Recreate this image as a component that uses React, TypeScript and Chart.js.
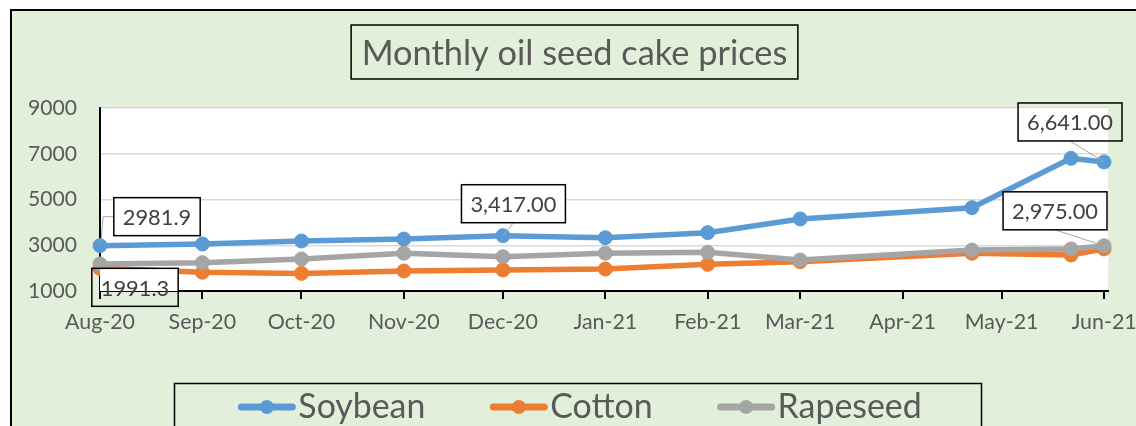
import { useEffect, useRef } from 'react';
import { Chart, registerables } from 'chart.js';

Chart.register(...registerables);

// ---------- data ----------
const TITLE = 'Monthly oil seed cake prices';
const SERIES_NAMES = ['Soybean', 'Cotton', 'Rapeseed'];
const SERIES_COLORS = ['#5B9BD5', '#ED7D31', '#A5A5A5'];

// days counted from 1 Aug 2020
const MONTH_TICK_LABELS = ['Aug-20', 'Sep-20', 'Oct-20', 'Nov-20', 'Dec-20', 'Jan-21', 'Feb-21', 'Mar-21', 'Apr-21', 'May-21', 'Jun-21'];
const MONTH_TICK_DAYS = [0, 31, 61, 92, 122, 153, 184, 212, 243, 273, 304];
const POINT_DAYS = [0, 31, 61, 92, 122, 153, 184, 212, 264, 294, 304];

const SOYBEAN = [2981.9, 3055, 3186, 3273, 3417, 3330, 3550, 4150, 4640, 6800, 6641];
const COTTON = [1991.3, 1820, 1770, 1875, 1920, 1960, 2165, 2280, 2650, 2575, 2840];
const RAPESEED = [2180, 2240, 2400, 2650, 2500, 2650, 2690, 2355, 2790, 2840, 2975];

const Y_MIN = 1000;
const Y_MAX = 9000;
const Y_STEP = 2000;

// data labels shown on the chart: series index, point index, text
const LABEL_SERIES = [0, 0, 0, 1, 2];
const LABEL_POINTS = [0, 4, 10, 0, 10];
const LABEL_TEXTS = ['2981.9', '3,417.00', '6,641.00', '1991.3', '2,975.00'];

// ---------- styling / layout ----------
const LABEL_LAYOUT = [
  { dx: 57, dy: -29, leader: 'elbow' },
  { dx: 10.5, dy: -32, leader: 'bottom' },
  { dx: -34, dy: -40, leader: 'bottom' },
  { dx: 35, dy: 19, leader: 'none' },
  { dx: -49, dy: -35, leader: 'bottom' },
];

const FONT = 'Lato';
const TEXT_GRAY = '#595959';
const GREEN = '#E2EFDA';

function fitPx(text: string, target: number): number {
  const c = document.createElement('canvas').getContext('2d')!;
  c.font = `100px ${FONT}`;
  return (100 * target) / c.measureText(text).width;
}

export default function App() {
  const ref = useRef<HTMLCanvasElement | null>(null);

  useEffect(() => {
    document.body.style.margin = '0';
    const canvas = ref.current!;

    const yTickSize = fitPx('9000', 49);
    const xTickSize = fitPx('Aug-20', 70);
    const labelSize = fitPx('6,641.00', 86);
    const titleSize = fitPx(TITLE, 426);
    const legendSize = fitPx('Soybean', 127);

    const seriesValues = [SOYBEAN, COTTON, RAPESEED];

    const decor = {
      id: 'decor',
      beforeDraw(chart: any) {
        const ctx = chart.ctx as CanvasRenderingContext2D;
        const W = chart.width;
        const H = chart.height;
        ctx.save();
        ctx.fillStyle = '#FFFFFF';
        ctx.fillRect(0, 0, W, H);
        ctx.fillStyle = GREEN;
        ctx.fillRect(12, 11, W - 12, H - 11);
        ctx.fillStyle = '#000000';
        ctx.fillRect(10, 9, W - 10, 2);
        ctx.fillRect(10, 9, 2, H - 9);
        const a = chart.chartArea;
        ctx.fillStyle = '#FFFFFF';
        ctx.fillRect(a.left, a.top, a.right - a.left, a.bottom - a.top);
        ctx.restore();
      },
      afterDatasetsDraw(chart: any) {
        const ctx = chart.ctx as CanvasRenderingContext2D;
        const a = chart.chartArea;
        ctx.save();
        ctx.font = `${labelSize}px ${FONT}`;
        for (let k = 0; k < LABEL_TEXTS.length; k++) {
          const meta = chart.getDatasetMeta(LABEL_SERIES[k]);
          const el = meta.data[LABEL_POINTS[k]];
          const px = el.x;
          const py = el.y;
          const lay = LABEL_LAYOUT[k];
          const cx = px + lay.dx;
          const cy = py + lay.dy;
          const tw = ctx.measureText(LABEL_TEXTS[k]).width;
          const w = tw + 18;
          const h = 38;
          const left = cx - w / 2;
          const top = cy - h / 2;
          ctx.save();
          ctx.beginPath();
          ctx.rect(a.left, a.top, a.right - a.left, a.bottom - a.top);
          ctx.clip();
          ctx.fillStyle = '#FFFFFF';
          ctx.fillRect(left, top, w, h);
          ctx.restore();
          ctx.strokeStyle = '#A6A6A6';
          ctx.lineWidth = 1;
          if (lay.leader === 'elbow') {
            ctx.beginPath();
            ctx.moveTo(px + 1, py - 3);
            ctx.lineTo(px + 3, cy);
            ctx.lineTo(left, cy);
            ctx.stroke();
          } else if (lay.leader === 'bottom') {
            ctx.beginPath();
            ctx.moveTo(cx, top + h);
            ctx.lineTo(px, py);
            ctx.stroke();
          }
          ctx.strokeStyle = '#000000';
          ctx.lineWidth = 1.5;
          ctx.strokeRect(left, top, w, h);
          ctx.fillStyle = '#404040';
          ctx.textAlign = 'center';
          ctx.textBaseline = 'alphabetic';
          ctx.fillText(LABEL_TEXTS[k], cx, cy + 8.5);
        }
        ctx.restore();
      },
      afterDraw(chart: any) {
        const ctx = chart.ctx as CanvasRenderingContext2D;
        ctx.save();
        ctx.font = `${titleSize}px ${FONT}`;
        const tw = ctx.measureText(TITLE).width;
        const tcx = 574.5;
        ctx.strokeStyle = '#000000';
        ctx.lineWidth = 1.5;
        ctx.strokeRect(tcx - tw / 2 - 10.5, 25, tw + 21, 54);
        ctx.fillStyle = TEXT_GRAY;
        ctx.textAlign = 'center';
        ctx.textBaseline = 'alphabetic';
        ctx.fillText(TITLE, tcx, 65);

        ctx.font = `${legendSize}px ${FONT}`;
        ctx.strokeRect(174.5, 383.5, 807, 60);
        const symW = 57;
        const gapText = 3;
        const gapItem = 65;
        const widths = SERIES_NAMES.map((n) => ctx.measureText(n).width);
        const total = SERIES_NAMES.length * (symW + gapText) + widths.reduce((s, v) => s + v, 0) + gapItem * (SERIES_NAMES.length - 1);
        let x = 580 - total / 2;
        const ly = 407;
        ctx.textAlign = 'left';
        for (let i = 0; i < SERIES_NAMES.length; i++) {
          ctx.strokeStyle = SERIES_COLORS[i];
          ctx.lineWidth = 7;
          ctx.lineCap = 'round';
          ctx.beginPath();
          ctx.moveTo(x + 3, ly);
          ctx.lineTo(x + symW - 3, ly);
          ctx.stroke();
          ctx.fillStyle = SERIES_COLORS[i];
          ctx.beginPath();
          ctx.arc(x + symW / 2, ly, 7, 0, Math.PI * 2);
          ctx.fill();
          ctx.fillStyle = TEXT_GRAY;
          ctx.fillText(SERIES_NAMES[i], x + symW + gapText, 418);
          x += symW + gapText + widths[i] + gapItem;
        }
        ctx.restore();
      },
    };

    const orders = [2, 1, 0];
    const chart = new Chart(canvas, {
      type: 'line',
      data: {
        datasets: SERIES_NAMES.map((name, s) => ({
          label: name,
          data: POINT_DAYS.map((d, i) => ({ x: d, y: seriesValues[s][i] })),
          borderColor: SERIES_COLORS[s],
          backgroundColor: SERIES_COLORS[s],
          pointBackgroundColor: SERIES_COLORS[s],
          pointBorderColor: SERIES_COLORS[s],
          borderWidth: 5.5,
          pointRadius: 7,
          pointBorderWidth: 1,
          tension: 0,
          clip: false as any,
          order: orders[s],
        })),
      },
      options: {
        responsive: false,
        animation: false,
        devicePixelRatio: 1,
        events: [],
        layout: { padding: { top: 108, right: 28, left: 0, bottom: 0 } },
        plugins: {
          legend: { display: false },
          title: { display: false },
          tooltip: { enabled: false },
        },
        scales: {
          x: {
            type: 'linear',
            min: MONTH_TICK_DAYS[0],
            max: 305.2,
            afterBuildTicks: (scale: any) => {
              scale.ticks = MONTH_TICK_DAYS.map((v) => ({ value: v }));
            },
            afterFit: (scale: any) => {
              scale.height = 135;
              scale.paddingLeft = 0;
              scale.paddingRight = 0;
            },
            grid: {
              drawOnChartArea: false,
              drawTicks: true,
              tickLength: 8,
              color: '#000000',
              lineWidth: 2,
            },
            border: { display: true, color: '#000000', width: 2 },
            ticks: {
              autoSkip: false,
              maxRotation: 0,
              minRotation: 0,
              padding: 10,
              color: TEXT_GRAY,
              font: { family: FONT, size: xTickSize },
              callback: (v: any) => {
                const idx = MONTH_TICK_DAYS.indexOf(Number(v));
                return idx >= 0 ? MONTH_TICK_LABELS[idx] : '';
              },
            },
          },
          y: {
            type: 'linear',
            min: Y_MIN,
            max: Y_MAX,
            afterFit: (scale: any) => {
              scale.width = 100;
              scale.paddingTop = 0;
              scale.paddingBottom = 0;
            },
            grid: {
              drawTicks: false,
              color: '#D9D9D9',
              lineWidth: 1.5,
            },
            border: { display: true, color: '#000000', width: 2 },
            ticks: {
              stepSize: Y_STEP,
              padding: 23,
              color: TEXT_GRAY,
              font: { family: FONT, size: yTickSize },
              callback: (v: any) => String(v),
            },
          },
        },
      },
      plugins: [decor],
    });

    return () => chart.destroy();
  }, []);

  return (
    <div style={{ width: 1136, height: 426 }}>
      <canvas ref={ref} width={1136} height={426} style={{ display: 'block' }} />
    </div>
  );
}
